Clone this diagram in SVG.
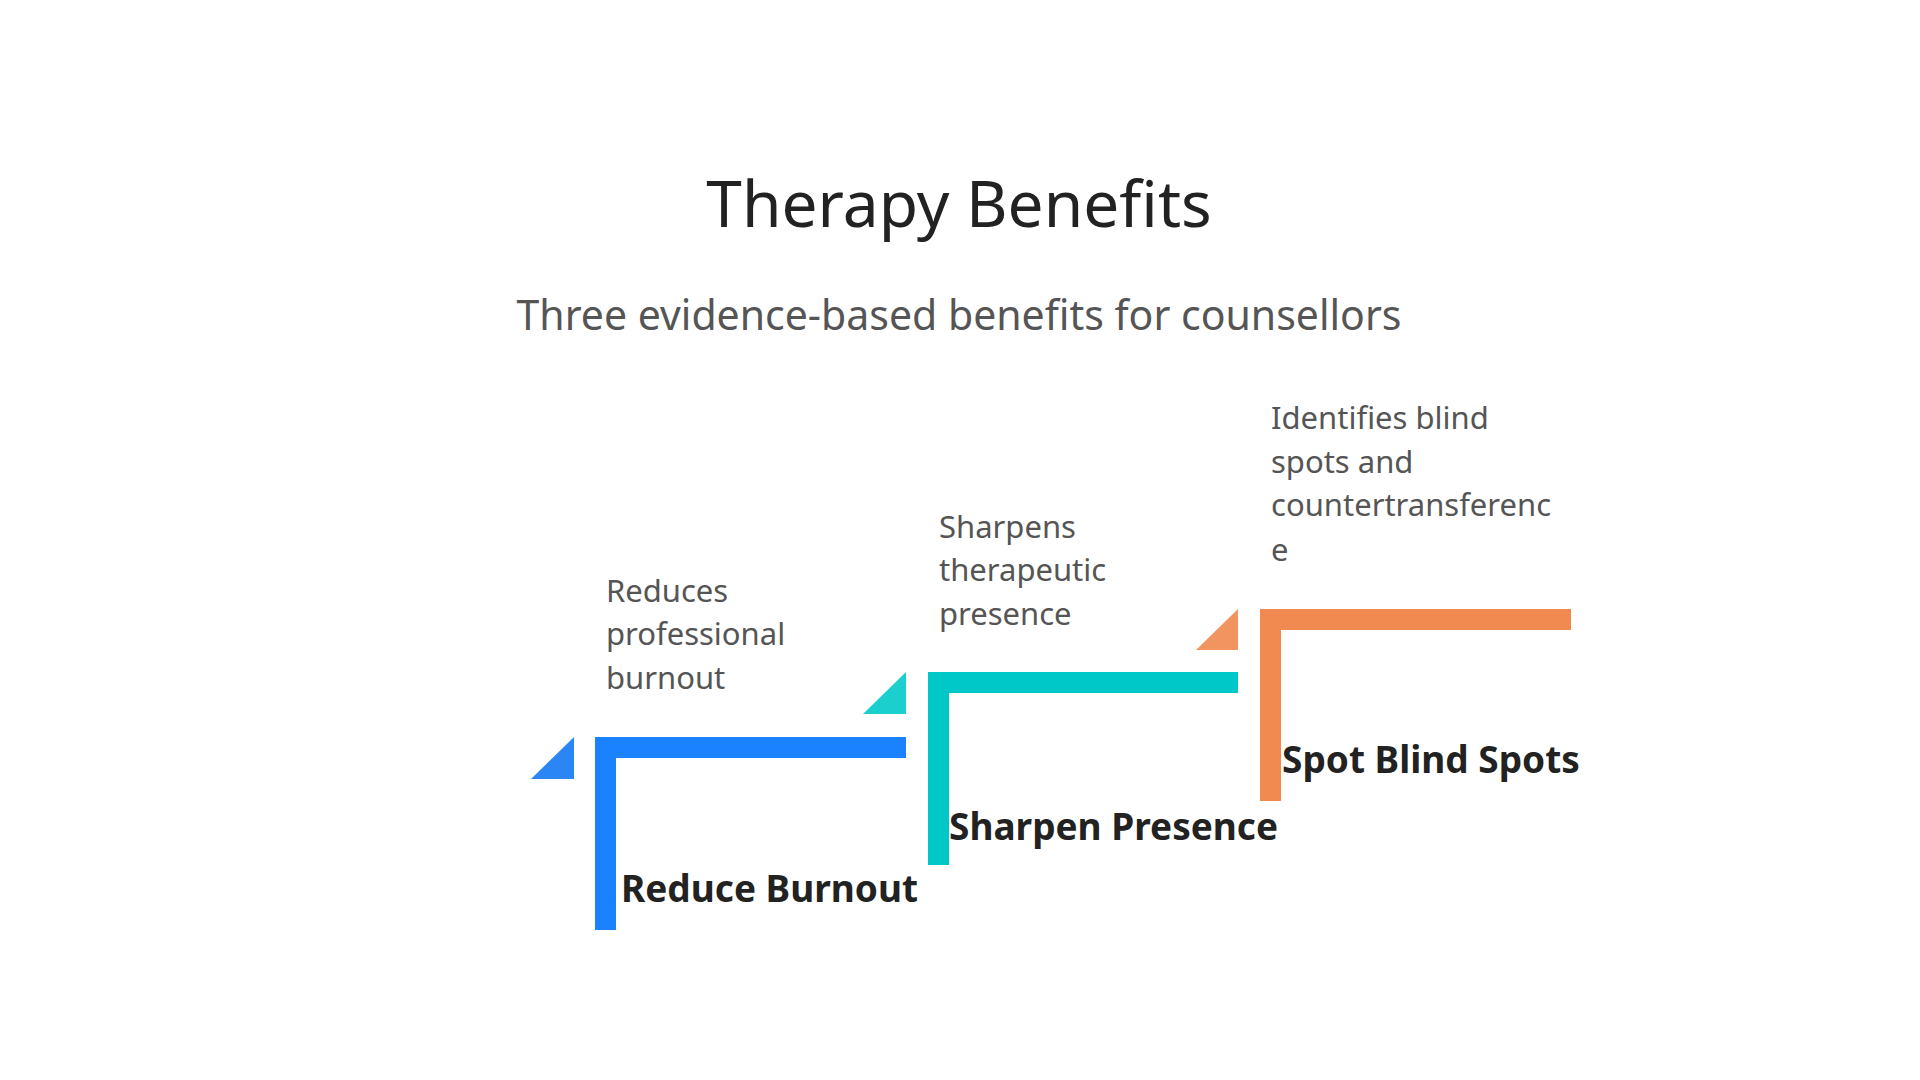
<svg xmlns="http://www.w3.org/2000/svg" width="1920" height="1080" viewBox="0 0 1920 1080">
<style>
.t{font-family:"Noto Sans","Open Sans",sans-serif}
.title{font-size:64px;fill:#222}
.sub{font-size:41px;fill:#555}
.lab{font-size:37px;font-weight:bold;fill:#222}
.desc{font-size:31px;fill:#555}
</style>
<rect width="1920" height="1080" fill="#fff"/>
<text class="t title" x="959" y="227" text-anchor="middle">Therapy Benefits</text>
<text class="t sub" x="959" y="330" text-anchor="middle">Three evidence-based benefits for counsellors</text>
<g id="connectors"></g>
<g id="step1">
<polygon points="531,779 574,737 574,779" fill="#2a86f5"/>
<rect x="595" y="737" width="21" height="193" fill="#1a82ff"/>
<rect x="595" y="737" width="311" height="21" fill="#1a82ff"/>
<text class="t lab" x="621" y="902">Reduce Burnout</text>
<text class="t desc" x="606" y="602">Reduces</text>
<text class="t desc" x="606" y="645">professional</text>
<text class="t desc" x="606" y="689">burnout</text>
</g>
<g id="step2">
<polygon points="863,714 906,672 906,714" fill="#1ccfcf"/>
<rect x="928" y="672" width="21" height="193" fill="#00c8c8"/>
<rect x="928" y="672" width="310" height="21" fill="#00c8c8"/>
<text class="t lab" x="949" y="840">Sharpen Presence</text>
<text class="t desc" x="939" y="538">Sharpens</text>
<text class="t desc" x="939" y="581">therapeutic</text>
<text class="t desc" x="939" y="625">presence</text>
</g>
<g id="step3">
<polygon points="1196,650 1238,609 1238,650" fill="#f29460"/>
<rect x="1260" y="609" width="21" height="192" fill="#f08a50"/>
<rect x="1260" y="609" width="311" height="21" fill="#f08a50"/>
<text class="t lab" x="1282" y="773">Spot Blind Spots</text>
<text class="t desc" x="1271" y="429">Identifies blind</text>
<text class="t desc" x="1271" y="473">spots and</text>
<text class="t desc" x="1271" y="516">countertransferenc</text>
<text class="t desc" x="1271" y="561">e</text>
</g>
</svg>
